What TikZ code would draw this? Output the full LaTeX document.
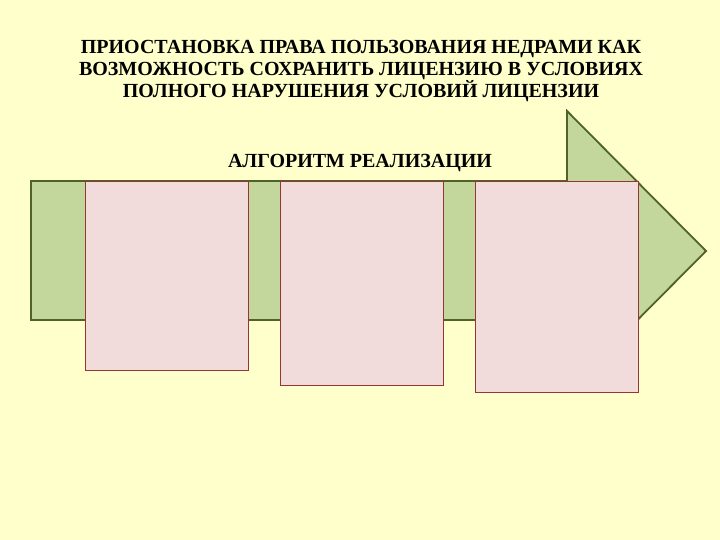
\documentclass[tikz,border=0pt]{standalone}
\usepackage{fontspec}
\setmainfont{Liberation Serif}
\usetikzlibrary{positioning}

\definecolor{bgyellow}{HTML}{FFFFCC}
\definecolor{arrowfill}{HTML}{C3D69B}
\definecolor{arrowline}{HTML}{4F6228}
\definecolor{boxfill}{HTML}{F2DCDB}
\definecolor{boxline}{HTML}{943634}

\begin{document}
\begin{tikzpicture}[x=1pt, y=-1pt,
    stepbox/.style={draw=boxline, fill=boxfill, line width=0.9pt, minimum width=163pt, anchor=north west, inner sep=0pt},
    heading/.style={font=\bfseries\fontsize{20}{22}\selectfont, align=center}]

    % Background
    \fill[bgyellow] (0,0) rectangle (720,540);
    \useasboundingbox (0,0) rectangle (720,540);

    % Title
    \node[heading] (title) at (361,71) {ПРИОСТАНОВКА ПРАВА ПОЛЬЗОВАНИЯ НЕДРАМИ КАК\\ВОЗМОЖНОСТЬ СОХРАНИТЬ ЛИЦЕНЗИЮ В УСЛОВИЯХ\\ПОЛНОГО НАРУШЕНИЯ УСЛОВИЙ ЛИЦЕНЗИИ};
    \node[heading] (algo) at (360,163) {АЛГОРИТМ РЕАЛИЗАЦИИ};

    % Big arrow
    \filldraw[draw=arrowline, fill=arrowfill, line width=1.8pt, line join=miter]
        (31,181) -- (567,181) -- (567,111) -- (706,251) -- (567,391) -- (567,320) -- (31,320) -- cycle;

    % Step boxes
    \node[stepbox, minimum height=189pt] (s1) at (85,181) {};
    \node[stepbox, minimum height=204pt] (s2) at (280,181) {};
    \node[stepbox, minimum height=211pt] (s3) at (475,181) {};

\end{tikzpicture}
\end{document}
